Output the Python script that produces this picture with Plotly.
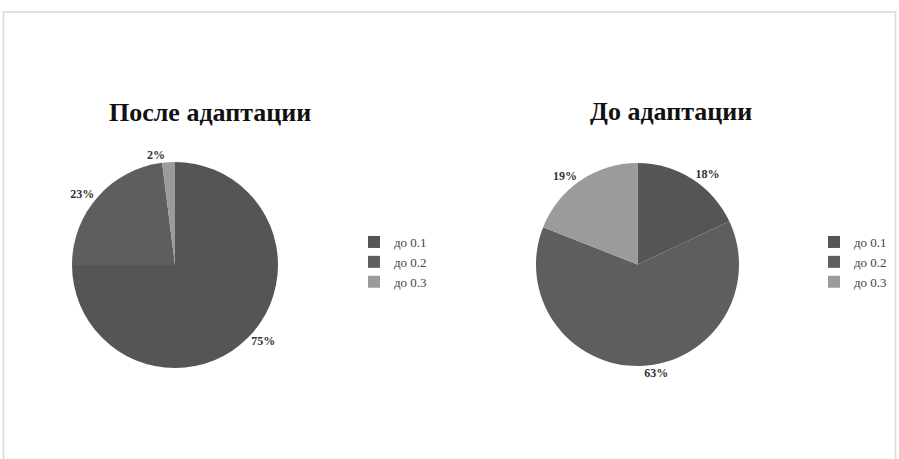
import plotly.graph_objects as go

categories = ["до 0.1", "до 0.2", "до 0.3"]
after_values = [75, 23, 2]
before_values = [18, 63, 19]
titles = ["После адаптации", "До адаптации"]
colors = ["#555555", "#5e5e5e", "#9b9b9b"]

W, H = 899, 459

def px(x):
    return x / W

def py(y):
    return (H - y) / H

def dom(cx, cy, r):
    return dict(x=[px(cx - r), px(cx + r)], y=[py(cy + r), py(cy - r)])

label_font = dict(family="Liberation Serif", size=12, color="#333333")

fig = go.Figure()
fig.add_trace(go.Pie(
    labels=categories, values=after_values, sort=False, direction="clockwise", rotation=0,
    marker=dict(colors=colors, line=dict(width=0)),
    textinfo="percent", textposition="outside", texttemplate="<b>%{percent:.0%}</b>",
    outsidetextfont=label_font, domain=dom(175, 265, 103), legend="legend",
    hoverinfo="label+percent",
))
fig.add_trace(go.Pie(
    labels=[c + " " for c in categories], values=before_values, sort=False,
    direction="clockwise", rotation=0,
    marker=dict(colors=colors, line=dict(width=0)),
    textinfo="percent", textposition="outside", texttemplate="<b>%{percent:.0%}</b>",
    outsidetextfont=label_font, domain=dom(637.5, 264.5, 101.5), legend="legend2",
    hoverinfo="label+percent",
))

leg_font = dict(family="Liberation Serif", size=13, color="#444444")
fig.update_layout(
    width=W, height=H, margin=dict(l=0, r=0, t=0, b=0),
    paper_bgcolor="white", plot_bgcolor="white",
    legend=dict(x=px(354), y=py(227), xanchor="left", yanchor="top", font=leg_font,
                bgcolor="rgba(0,0,0,0)", itemclick=False, itemwidth=30),
    legend2=dict(x=px(814), y=py(227), xanchor="left", yanchor="top", font=leg_font,
                 bgcolor="rgba(0,0,0,0)", itemclick=False, itemwidth=30),
    annotations=[
        dict(text="<b>" + titles[0] + "</b>", x=px(210), y=py(113), xref="paper", yref="paper",
             showarrow=False, xanchor="center", yanchor="middle",
             font=dict(family="Liberation Serif", size=26, color="#111111")),
        dict(text="<b>" + titles[1] + "</b>", x=px(671), y=py(112), xref="paper", yref="paper",
             showarrow=False, xanchor="center", yanchor="middle",
             font=dict(family="Liberation Serif", size=26, color="#111111")),
    ],
    shapes=[
        dict(type="rect", xref="paper", yref="paper", x0=px(3.5), x1=px(895.5),
             y0=py(480), y1=py(12), line=dict(color="#d9d9d9", width=1.5),
             fillcolor="rgba(0,0,0,0)", layer="below"),
    ],
)

fig.write_html(
    "out.html",
    config={"displayModeBar": False},
    post_script="document.body.style.margin='0px';document.body.style.overflow='hidden';",
)
